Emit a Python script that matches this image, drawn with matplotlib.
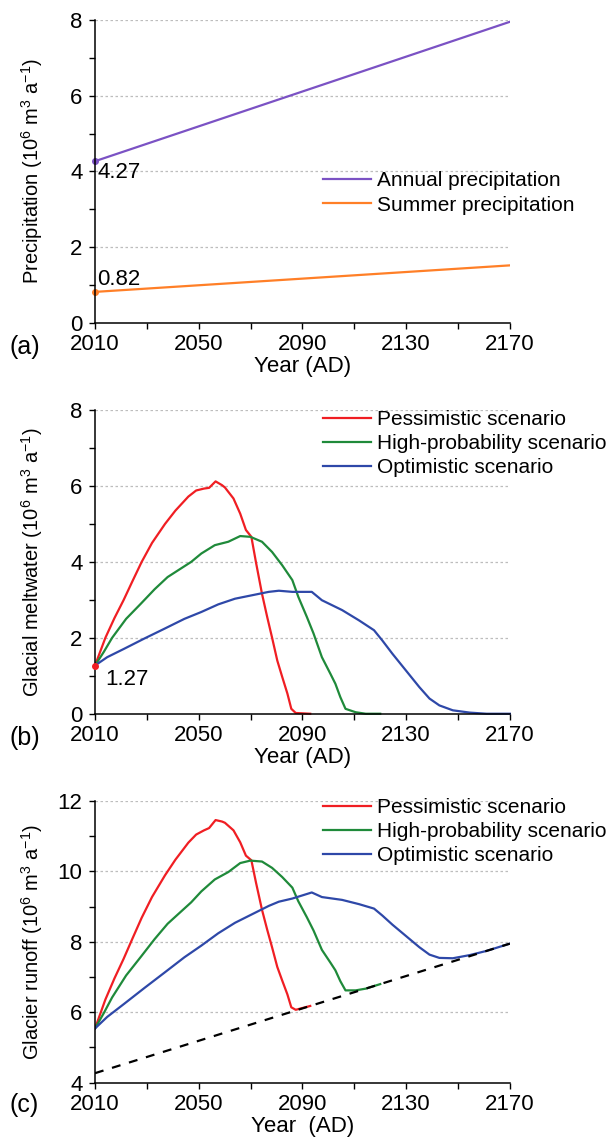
import numpy as np
import matplotlib
matplotlib.use("Agg")
import matplotlib.pyplot as plt
from matplotlib.ticker import MultipleLocator, FixedLocator

plt.rcParams['font.family'] = ['Liberation Sans', 'DejaVu Sans']
plt.rcParams['mathtext.fontset'] = 'custom'
plt.rcParams['mathtext.rm'] = 'Liberation Sans'
plt.rcParams['mathtext.it'] = 'Liberation Sans'

# precipitation trends (10^6 m^3 a^-1), linear between end years
prec_years = [2010, 2170]
annual_prec = [4.27, 7.95]
summer_prec = [0.82, 1.52]

year_ticks = [2010, 2050, 2090, 2130, 2170]
year_minor = [2030, 2070, 2110, 2150]

# glacial meltwater for the three scenarios
pess_years = [2010, 2014, 2017.5, 2021, 2024.5, 2028, 2032, 2037, 2041, 2046, 2049, 2052,
              2054, 2056.5, 2059, 2060.1, 2063.4, 2066, 2068.2, 2070.3, 2072.1, 2074.4,
              2076.4, 2078.3, 2080.3, 2082.2, 2084.2, 2085.7, 2087.4, 2093]
pess_melt = [1.27, 2.0, 2.52, 2.99, 3.5, 4.0, 4.5, 5.0, 5.35, 5.72, 5.88, 5.93,
             5.95, 6.12, 6.02, 5.96, 5.67, 5.27, 4.84, 4.66, 3.98, 3.16,
             2.55, 2.0, 1.4, 0.97, 0.53, 0.13, 0.02, 0.0]

high_years = [2010, 2013.4, 2016.6, 2022, 2027.7, 2033, 2038, 2043, 2047.1, 2051, 2056.2,
              2061.4, 2066, 2069.9, 2074.4, 2078.3, 2082.2, 2086.1, 2088.4, 2091.7,
              2094.3, 2097.5, 2100.8, 2102.7, 2104.6, 2106.6, 2110.5, 2114.4, 2120]
high_melt = [1.27, 1.63, 2.0, 2.5, 2.9, 3.28, 3.6, 3.82, 4.0, 4.22, 4.44,
             4.53, 4.68, 4.66, 4.53, 4.26, 3.91, 3.52, 3.08, 2.55,
             2.11, 1.49, 1.05, 0.79, 0.44, 0.13, 0.04, 0.0, 0.0]

opt_years = [2010, 2014.7, 2021.2, 2029, 2036.8, 2044.5, 2051, 2057.5, 2064, 2070.5,
             2077, 2080.9, 2086.1, 2093.6, 2097.5, 2105.3, 2111.8, 2117.6, 2120.8,
             2124.7, 2129.9, 2135.1, 2139, 2142.8, 2148, 2154.5, 2161, 2170]
opt_melt = [1.27, 1.49, 1.71, 1.98, 2.24, 2.5, 2.68, 2.88, 3.03, 3.12,
            3.21, 3.24, 3.21, 3.21, 2.99, 2.73, 2.46, 2.2, 1.93,
            1.58, 1.14, 0.7, 0.4, 0.22, 0.09, 0.03, 0.0, 0.0]

scenarios = [
    ('Pessimistic scenario', '#f01e23', pess_years, pess_melt),
    ('High-probability scenario', '#1f8a3a', high_years, high_melt),
    ('Optimistic scenario', '#2e48a8', opt_years, opt_melt),
]

FS = 15
TICK_FS = 16


def style_axis(ax, ymin, ymax, ylabel, xlabel, tag):
    ax.set_xlim(2010, 2170)
    ax.set_ylim(ymin, ymax)
    ax.xaxis.set_major_locator(FixedLocator(year_ticks))
    ax.xaxis.set_minor_locator(FixedLocator(year_minor))
    ax.yaxis.set_major_locator(MultipleLocator(2))
    ax.yaxis.set_minor_locator(MultipleLocator(1))
    for s in ['top', 'right']:
        ax.spines[s].set_visible(False)
    for s in ['left', 'bottom']:
        ax.spines[s].set_linewidth(1.1)
    ax.tick_params(which='both', direction='out', width=1.0, length=4, labelsize=TICK_FS)
    ax.tick_params(axis='x', pad=4)
    ax.tick_params(axis='y', pad=5)
    for v in np.arange(ymin + 2, ymax + 0.1, 2):
        ax.axhline(v, color='#bdbdbd', lw=0.9, ls=(0, (2, 2)), zorder=0)
    ax.set_ylabel(ylabel, fontsize=14.5)
    ax.yaxis.set_label_coords(-0.12, 0.5)
    ax.set_xlabel(xlabel, fontsize=16, labelpad=1)
    ax.text(-0.17, -0.08, tag, transform=ax.transAxes, fontsize=18,
            ha='center', va='center')


unit = r' (10$\mathregular{^{6}}$ m$\mathregular{^{3}}$ a$\mathregular{^{-1}}$)'

fig = plt.figure(figsize=(6.11, 11.44), dpi=100)
ax_a = fig.add_axes([0.1555, 0.7177, 0.679, 0.2649])
ax_b = fig.add_axes([0.1555, 0.3761, 0.679, 0.2655])
ax_c = fig.add_axes([0.1555, 0.0536, 0.679, 0.2462])

# (a) precipitation
ax_a.plot(prec_years, annual_prec, color='#7b52c4', lw=1.6, label='Annual precipitation')
ax_a.plot(prec_years, summer_prec, color='#ff7f27', lw=1.6, label='Summer precipitation')
ax_a.plot(prec_years[0], annual_prec[0], 'o', color='#7b52c4', ms=4, clip_on=False)
ax_a.plot(prec_years[0], summer_prec[0], 'o', color='#ff7f27', ms=4, clip_on=False)
ax_a.text(2010.8, 3.83, '%.2f' % annual_prec[0], fontsize=16, ha='left', va='baseline')
ax_a.text(2010.8, 1.0, '%.2f' % summer_prec[0], fontsize=16, ha='left', va='baseline')
style_axis(ax_a, 0, 8, 'Precipitation' + unit, 'Year (AD)', '(a)')
ax_a.legend(frameon=False, loc='upper left', bbox_to_anchor=(0.55, 0.50),
            fontsize=FS, handlelength=2.3, handletextpad=0.3, labelspacing=0.25,
            borderaxespad=0, borderpad=0)

# (b) glacial meltwater
for name, col, yrs, melt in scenarios:
    ax_b.plot(yrs, melt, color=col, lw=1.6, label=name, clip_on=False)
ax_b.plot(pess_years[0], pess_melt[0], 'o', color='#f01e23', ms=4, clip_on=False, zorder=5)
ax_b.text(2013.9, 0.76, '%.2f' % pess_melt[0], fontsize=16, ha='left', va='baseline')
style_axis(ax_b, 0, 8, 'Glacial meltwater' + unit, 'Year (AD)', '(b)')
ax_b.legend(frameon=False, loc='upper left', bbox_to_anchor=(0.55, 1.0),
            fontsize=FS, handlelength=2.3, handletextpad=0.3, labelspacing=0.25,
            borderaxespad=0, borderpad=0)

# (c) glacier runoff = meltwater + annual precipitation
for name, col, yrs, melt in scenarios:
    base = np.interp(yrs, prec_years, annual_prec)
    ax_c.plot(yrs, np.array(melt) + base, color=col, lw=1.6, label=name)
ax_c.plot(prec_years, annual_prec, color='black', lw=1.6, ls=(0, (4, 4)), zorder=4)
style_axis(ax_c, 4, 12, 'Glacier runoff' + unit, 'Year  (AD)', '(c)')
ax_c.legend(frameon=False, loc='upper left', bbox_to_anchor=(0.55, 1.011),
            fontsize=FS, handlelength=2.3, handletextpad=0.3, labelspacing=0.25,
            borderaxespad=0, borderpad=0)

fig.savefig('out.png', dpi=100)
